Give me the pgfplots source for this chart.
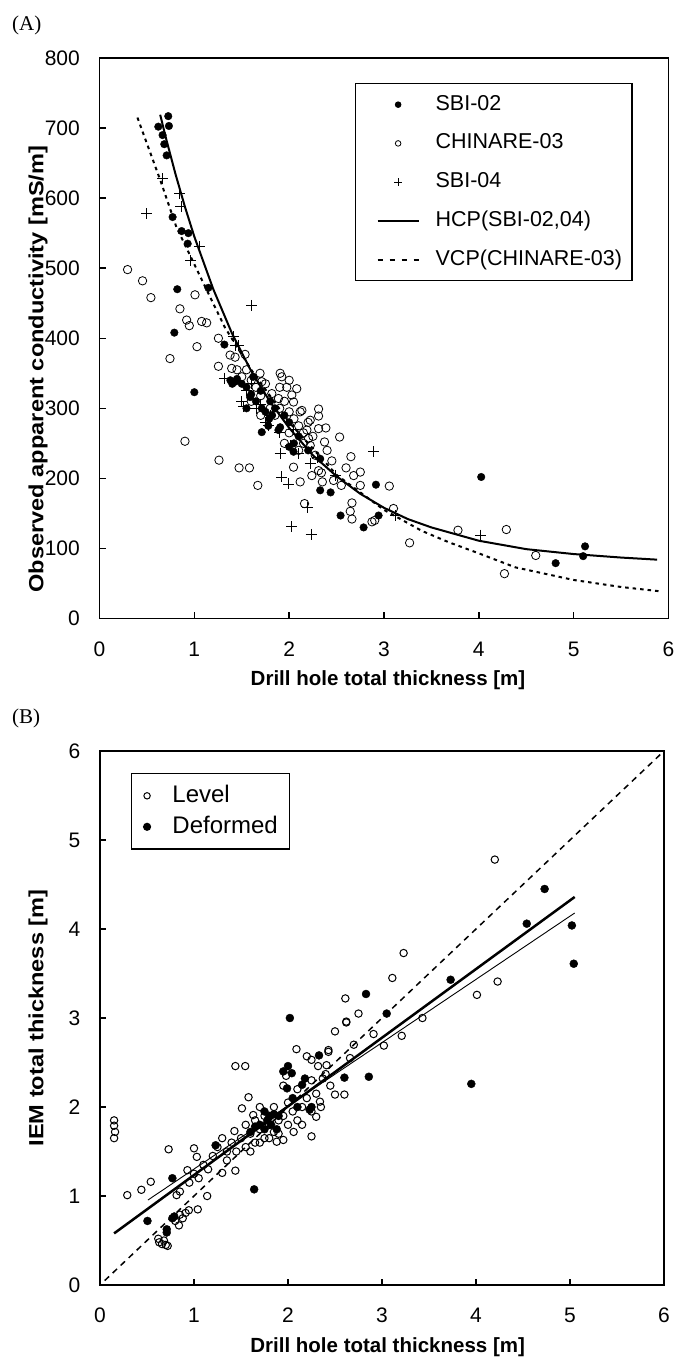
\documentclass[border=0pt]{standalone}
\usepackage{pgfplots}
\pgfplotsset{compat=1.18}
\usepackage{fontspec}
\setmainfont{Liberation Sans}
\newfontfamily\seriffont{Liberation Serif}
\pgfplotsset{
  common/.style={
    scale only axis,
    xmin=0,xmax=6,
    xtick={0,1,2,3,4,5,6},
    xtick pos=bottom, ytick pos=left, tick align=inside,
    major tick length=6.5bp,
    every tick/.style={black,line width=1.4bp},
    axis line style={line width=1.8bp},
    /pgf/number format/assume math mode=true,
    scaled ticks=false,
    ticklabel style={font=\fontsize{21bp}{25bp}\selectfont},
    xticklabel style={inner sep=0pt,yshift=-23bp},
    yticklabel style={inner sep=0pt,xshift=-19.5bp},
    label style={font=\fontsize{20.5bp}{24bp}\selectfont\bfseries},
  },
  legAmark/.style={legend image code/.code={\path[draw=none] (0bp,0bp) (53bp,0bp);\draw[##1,mark size=#1] plot coordinates {(32.5bp,0bp)};}},
  legAline/.style={legend image code/.code={\path[draw=none] (0bp,0bp) (53bp,0bp);\draw[##1] (12bp,0bp) -- (53bp,0bp);}},
  legAdash/.style={legend image code/.code={\path[draw=none] (0bp,0bp) (53bp,0bp);\draw[##1,dash pattern=on 5bp off 7bp] (12bp,0bp) -- (53bp,0bp);}},
  legBmark/.style={legend image code/.code={\path[draw=none] (0bp,0bp) (6bp,0bp);\draw[##1,mark size=#1] plot coordinates {(3bp,0bp)};}},
}
\begin{document}
\begin{tikzpicture}
\path[use as bounding box] (0,0) rectangle (677bp,-1358bp);
\node[anchor=west,inner sep=0pt] at (12bp,-25bp) {\seriffont\fontsize{21bp}{24bp}\selectfont (A)};
\node[anchor=west,inner sep=0pt] at (12bp,-718bp) {\seriffont\fontsize{21bp}{24bp}\selectfont (B)};
%%%%%%%%%%%%%%%%%% Panel A
\begin{axis}[common,
  at={(99.5bp,-618.5bp)}, anchor=south west,
  width=569bp, height=560.5bp,
  ymin=0,ymax=800, ytick={0,100,...,800},
  xlabel={Drill hole total thickness [m]},
  xlabel style={at={(axis description cs:0.507,-0.1097)},anchor=center},
  ylabel={\scalebox{1.15}[1]{Observed apparent conductivity [mS/m]}},
  ylabel style={at={(axis description cs:-0.108,0.445)},anchor=center},
  legend style={at={(axis description cs:0.449,0.9554)}, anchor=north west,
    draw=black, line width=1.3bp, inner xsep=10bp, inner ysep=11bp,
    row sep=18.75bp, column sep=16bp,
    font=\fontsize{21.5bp}{25bp}\selectfont,
    cells={anchor=west},
    nodes={inner sep=0pt, text height=15.5bp, text depth=4.5bp}},
]
\addplot[only marks, mark=*, mark size=3.8bp, black, legAmark=2.6bp]
coordinates {
(0.725,717)(0.62,702)(0.732,703)(0.665,690)(0.683,677)(0.708,661)(0.771,573)(0.866,553)(0.937,550)(0.93,535)
(0.82,470)(1.148,472)(0.789,408)(1.317,391)(1.0,323)(1.43,338)(1.45,342)(1.588,316)(1.711,300)(1.789,285)
(1.711,266)(1.887,269)(1.905,273)(2.046,238)(2.327,228)(2.915,191)(2.327,183)(2.437,180)(2.542,147)(2.943,147)
(2.785,130)(4.025,202)(4.81,79)(5.10,89)(5.12,103)
(1.55,330)(1.6,320)(1.65,310)(1.7,325)(1.75,295)(1.8,310)(1.85,300)(1.95,290)(2.0,280)(1.62,345)
(1.5,335)(2.1,260)(2.05,250)(1.4,335)(1.38,340)(1.55,300)(1.78,275)(1.82,290)(2.0,245)(2.2,240)
};
\addlegendentry{SBI-02}
\addplot[only marks, mark=o, mark size=4.2bp, black, mark options={line width=0.8bp}, legAmark=2.8bp]
coordinates {
(0.296,498)(0.454,482)(0.542,458)(1.007,462)(0.848,442)(0.919,426)(0.947,418)(1.077,424)(1.13,422)(1.254,400)
(1.028,388)(0.743,371)(1.535,377)(1.254,360)(1.394,357)(1.377,376)(1.43,373)(1.693,350)(1.711,338)(1.905,350)
(1.922,345)(1.975,330)(2.08,328)(2.028,319)(2.046,309)(1.887,314)(1.817,321)(2.116,295)(2.134,297)(2.31,299)
(2.31,289)(2.222,283)(2.31,271)(2.387,272)(2.187,269)(2.204,257)(2.222,247)(2.152,250)(2.373,252)(2.532,259)
(2.651,231)(2.275,233)(2.046,216)(2.239,204)(2.31,211)(2.34,208)(2.116,195)(2.468,197)(2.68,204)(2.75,209)
(2.75,190)(3.056,189)(2.662,165)(2.644,153)(2.662,142)(2.162,164)(2.873,138)(2.902,140)(3.1,157)(3.27,108)
(1.669,190)(1.472,215)(1.581,215)(1.26,226)(0.901,253)(3.78,126)(4.29,127)(4.27,64)(4.6,90)
(1.5,345)(1.55,355)(1.6,340)(1.65,330)(1.7,318)(1.75,335)(1.8,300)(1.85,290)(1.9,300)(1.95,310)
(2.0,295)(2.05,285)(2.1,275)(2.15,265)(2.2,280)(2.25,260)(2.0,265)(1.95,250)(2.1,240)(1.6,310)
(1.7,290)(1.45,355)(2.4,240)(2.45,225)(2.6,215)(2.35,195)(2.55,190)(1.9,330)(2.0,340)
};
\addlegendentry{CHINARE-03}
\addplot[only marks, mark=+, mark size=5.5bp, black, mark options={line width=0.9bp}, legAmark=3.8bp]
coordinates {
(0.665,628)(0.848,607)(0.859,588)(0.496,578)(1.053,531)(0.961,511)(1.606,447)(1.412,402)(1.437,390)(1.465,390)
(1.317,343)(1.517,302)(1.782,276)(1.905,235)(2.01,247)(2.099,235)(2.222,221)(1.922,202)(1.993,192)(2.891,238)
(2.486,204)(2.197,159)(2.028,131)(2.232,120)(3.119,147)(4.02,119)
(1.55,325)(1.7,305)(1.8,290)(1.6,335)(1.75,280)(1.5,310)(2.05,270)(1.9,265)(1.65,300)(2.3,230)
};
\addlegendentry{SBI-04}
\addplot[black, line width=2bp, mark=none, legAline]
coordinates {
(0.64,719)(0.7,686)(0.8,635)(0.9,588)(1.0,545)(1.2,470)(1.4,406)(1.6,353)(1.8,309)(2.0,272)
(2.25,233)(2.5,203)(2.75,178)(3.0,158)(3.25,142)(3.5,130)(4.0,111)(4.5,99)(5.0,92)(5.5,87)(5.88,84)
};
\addlegendentry{HCP(SBI-02,04)}
\addplot[black, line width=2bp, mark=none, dash pattern=on 3.5bp off 4bp, legAdash]
coordinates {
(0.40,715)(0.64,626)(0.81,559)(1.08,483)(1.32,416)(1.6,355)(2.0,280)(2.5,205)(3.0,155)(3.4,125)
(3.68,109)(4.0,93)(4.386,73)(5.0,55)(5.5,45)(5.9,39)
};
\addlegendentry{VCP(CHINARE-03)}
\end{axis}
%%%%%%%%%%%%%%%%%% Panel B
\begin{axis}[common,
  at={(100bp,-1285bp)}, anchor=south west,
  width=564bp, height=534bp,
  ymin=0,ymax=6, ytick={0,1,2,3,4,5,6},
  xlabel={Drill hole total thickness [m]},
  xlabel style={at={(axis description cs:0.51,-0.116)},anchor=center},
  ylabel={\scalebox{1.15}[1]{IEM total thickness [m]}},
  ylabel style={at={(axis description cs:-0.11,0.5)},anchor=center},
  legend style={at={(axis description cs:0.055,0.959)}, anchor=north west,
    draw=black, line width=1.3bp, inner xsep=12bp, inner ysep=11bp,
    row sep=8.5bp, column sep=22bp,
    font=\fontsize{24bp}{28bp}\selectfont,
    cells={anchor=west},
    nodes={inner sep=0pt, text height=17.5bp, text depth=5bp}},
]
\addplot[only marks, mark=o, mark size=3.7bp, black, mark options={line width=1bp}, legBmark=3.2bp]
coordinates {
(0.15,1.85)(0.15,1.79)(0.16,1.72)(0.15,1.65)
(0.29,1.01)(0.44,1.07)(0.54,1.16)(0.73,1.525)(0.815,1.01)(0.93,1.29)(1.0,1.536)(1.03,1.44)(1.14,1.0)(1.04,0.85)
(0.63,0.48)(0.66,0.46)(0.7,0.45)(0.68,0.5)(0.72,0.44)(0.62,0.52)
(0.85,0.79)(0.91,0.81)(0.945,0.84)(0.84,0.67)(0.8,0.72)(0.88,0.75)
(1.44,2.46)(1.545,2.46)(1.58,2.11)(1.51,1.985)(1.44,1.285)(1.3,1.26)(1.43,1.73)(1.63,1.91)(2.25,1.67)(2.09,2.65)
(1.95,2.24)(1.95,1.63)(1.88,1.61)(2.2,2.57)(2.25,2.53)(2.32,2.46)(2.41,2.47)(2.43,2.64)(2.5,2.85)(2.62,2.96)
(2.61,3.22)(2.5,2.14)(2.6,2.14)(2.45,2.24)(2.3,1.89)(2.34,2.06)(2.06,1.72)(2.37,2.32)(2.4,2.37)
(4.2,4.78)(3.23,3.73)(3.11,3.45)(2.75,3.05)(2.62,2.95)(2.91,2.82)(3.21,2.80)(3.02,2.69)(3.43,3.0)(4.01,3.26)
(4.23,3.41)(2.7,2.70)(2.43,2.62)(2.66,2.55)
(1.1,1.35)(1.2,1.45)(1.25,1.55)(1.35,1.5)(1.4,1.6)(1.5,1.65)(1.55,1.55)(1.6,1.7)(1.65,1.6)(1.7,1.75)
(1.75,1.65)(1.8,1.8)(1.85,1.72)(1.9,1.85)(1.95,1.9)(2.0,1.8)(2.05,1.95)(2.1,1.85)(2.15,2.0)(2.2,2.1)
(2.25,1.95)(1.55,1.8)(1.65,1.85)(1.7,1.6)(1.8,1.65)(2.0,2.05)(2.1,2.2)(1.45,1.5)(1.35,1.4)(1.6,1.5)
(1.9,1.7)(2.15,1.8)(2.3,2.15)(1.75,1.9)(1.85,2.0)(1.15,1.3)(1.0,1.25)(1.05,1.2)(0.95,1.15)(0.85,1.05)
(1.3,1.65)(1.7,2.0)(2.35,2.0)(2.25,2.3)(1.98,2.35)
};
\addlegendentry{Level}
\addplot[only marks, mark=*, mark size=4bp, black, legBmark=3.4bp]
coordinates {
(0.505,0.72)(0.77,1.2)(0.77,0.75)(0.79,0.77)(0.71,0.626)(0.71,0.59)(1.23,1.57)(1.64,1.075)(2.02,3.0)(2.0,2.46)
(2.04,2.38)(2.33,2.58)(2.18,2.32)(2.6,2.33)(2.23,1.97)(1.99,2.21)(4.73,4.45)(4.54,4.06)(5.02,4.04)(5.04,3.61)
(3.73,3.43)(2.83,3.27)(3.05,3.05)(3.95,2.26)(2.86,2.34)
(1.75,1.75)(1.78,1.85)(1.8,1.9)(1.82,1.8)(1.85,1.92)(1.7,1.8)(1.75,1.95)(1.9,1.9)(1.88,1.75)(1.6,1.72)
(1.65,1.78)(2.1,2.0)(2.05,2.1)(2.15,2.25)(2.25,2.0)(1.95,2.4)
};
\addlegendentry{Deformed}
\addplot[forget plot, black, line width=1.5bp, dash pattern=on 6bp off 5bp] coordinates {(0.05,0.05)(6,6)};
\addplot[forget plot, black, line width=2.5bp] coordinates {(0.15,0.58)(5.05,4.36)};
\addplot[forget plot, black, line width=0.9bp] coordinates {(0.51,0.955)(5.05,4.18)};
\end{axis}
\end{tikzpicture}
\end{document}
